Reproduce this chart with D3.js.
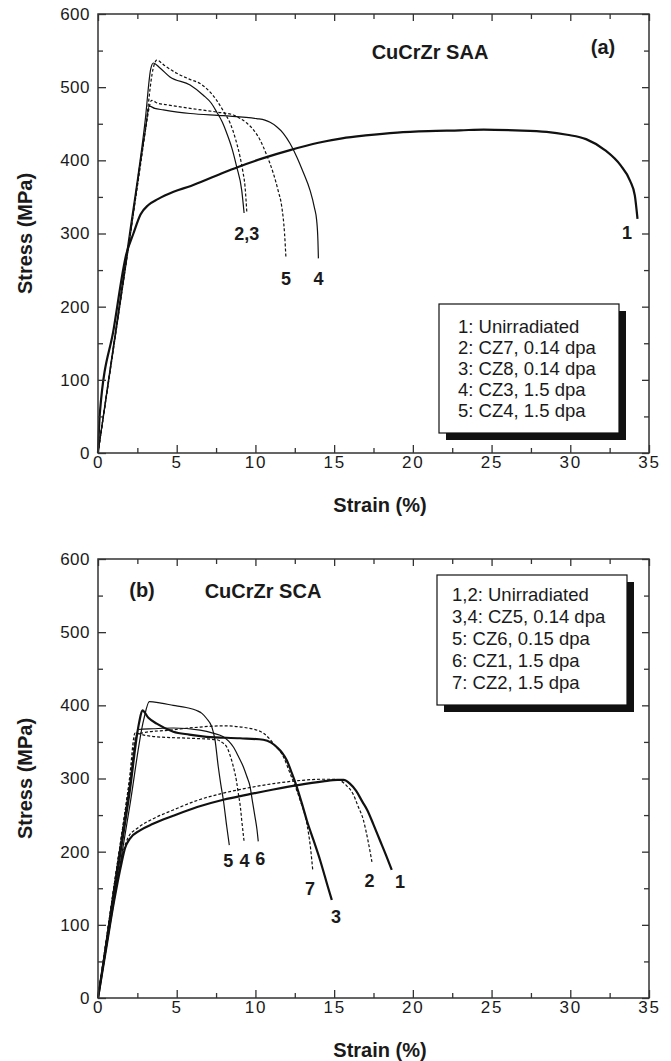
<html>

<head>
    <title>CuCrZr tensile curves</title>
    <script src="https://d3js.org/d3.v7.min.js"></script>
</head>
<style>
    body { margin: 0; background: #fff; }
    text { font-family: "Liberation Sans", Arial, sans-serif; fill: #1a1a1a; }
    .curve { fill: none; stroke: #111; stroke-width: 1.2px; }
    .dash { stroke-dasharray: 3, 2; }
    .thick { stroke-width: 2.2px; }
    .tick line { stroke: #333; stroke-width: 1.3px; }
    .ylab text { font-size: 17px; letter-spacing: 0.5px; }
    .xlab text { font-size: 17px; letter-spacing: 1.8px; }
    .clabel { font-size: 18px; font-weight: bold; }
    .title { font-size: 20px; font-weight: bold; }
    .legend text { font-size: 18.5px; }
</style>
<body>
<script>
    // ---- data: strain (%) , stress (MPa) ----

    // panel (a) CuCrZr SAA
    let saa1 = [[0,0],[0.12,55],[1.0,170],[1.8,272],[2.25,300],[2.7,326],[3.2,339],[3.8,347],[4.8,357],[5.9,365],[7.5,379],[8.9,391],[10.5,403],[12.2,414],[14,424],[15.5,430],[17,434],[19,438],[21,440],[23,441],[24.5,442],[26.5,441],[28.5,439],[29.8,435],[31.0,429],[32.2,414],[33.2,393],[33.8,372],[34.1,352],[34.27,320]];
    let saa2 = [[0,0],[1,150],[2,300],[3,455],[3.35,525],[3.52,533],[3.9,527],[4.57,514],[5.85,503],[6.69,489],[7.2,478],[7.54,466],[7.9,452],[8.18,437],[8.5,417],[8.81,391],[9.13,359],[9.28,328]];
    let saa3 = [[0,0],[1,148],[2,292],[3,440],[3.5,525],[3.73,537],[4.2,530],[5.0,519],[5.8,511],[6.48,505],[7.0,496],[7.54,482],[8.0,466],[8.39,451],[8.75,428],[9.02,405],[9.2,385],[9.34,364],[9.45,330]];
    let saa4 = [[0,0],[1,145],[2,290],[3,440],[3.26,474],[3.6,471],[4.15,469],[5.85,464],[7.96,461],[10.08,457],[10.6,455],[10.93,452],[11.35,446],[11.77,437],[12.2,423],[12.62,405],[13.05,383],[13.47,359],[13.75,335],[13.89,318],[13.97,290],[14.0,266]];
    let saa5 = [[0,0],[1,145],[2,292],[3,440],[3.41,482],[3.8,478],[4.36,476],[5.85,471],[7.54,466],[8.6,462],[9.05,457],[9.45,451],[9.9,441],[10.29,428],[10.7,408],[11.14,382],[11.45,358],[11.67,337],[11.85,300],[11.94,266]];
    let saaLabels = [["2,3", 9.45, 300], ["5", 11.94, 239], ["4", 14.0, 239], ["1", 33.6, 301]];
    let saaLegend = ["1: Unirradiated", "2: CZ7, 0.14 dpa", "3: CZ8, 0.14 dpa", "4: CZ3, 1.5 dpa", "5: CZ4, 1.5 dpa"];

    // panel (b) CuCrZr SCA
    let sca1 = [[0,0],[0.5,65],[1.0,130],[1.5,185],[1.72,205],[2.0,217],[2.67,229],[3.5,238],[4.78,249],[6.3,261],[7.96,271],[9.5,278],[11.14,285],[12.7,291],[14.3,296],[15.2,298],[15.6,298],[16.0,293],[16.4,283],[16.8,268],[17.1,257],[17.5,237],[17.9,216],[18.3,195],[18.66,175]];
    let sca2 = [[0,0],[0.5,68],[1.0,135],[1.6,200],[1.93,220],[2.5,232],[3.5,245],[4.78,257],[6.3,270],[7.96,280],[9.5,287],[11.14,293],[12.7,297],[14.3,299],[15.0,299],[15.4,297],[15.8,290],[16.2,279],[16.5,263],[16.86,243],[17.15,215],[17.4,186]];
    let sca3 = [[0,0],[1,140],[2,280],[2.6,375],[2.82,393],[3.2,383],[3.73,375],[4.78,364],[5.8,360],[6.9,357],[9.02,355],[10.5,353],[11.0,349],[11.35,343],[11.7,335],[11.99,325],[12.3,308],[12.62,289],[12.95,266],[13.26,243],[13.7,215],[14.1,189],[14.4,167],[14.6,152],[14.85,134]];
    let sca4 = [[0,0],[1,150],[2,300],[2.35,362],[3.0,359],[3.73,357],[5.85,355],[7.54,353],[7.9,349],[8.18,343],[8.4,331],[8.6,316],[8.8,296],[8.91,280],[9.05,260],[9.13,243],[9.28,214]];
    let sca5 = [[0,0],[1,130],[2,260],[2.9,380],[3.26,405],[4.0,403],[4.78,400],[5.6,397],[6.27,393],[6.6,389],[6.9,382],[7.22,371],[7.43,353],[7.64,316],[7.8,292],[7.96,271],[8.18,234],[8.34,209]];
    let sca6 = [[0,0],[1,150],[2,290],[2.56,367],[3.5,368],[4.78,369],[6.48,366],[7.3,362],[7.96,357],[8.3,351],[8.6,343],[8.9,331],[9.23,316],[9.45,303],[9.66,289],[9.8,270],[9.97,248],[10.1,230],[10.18,214]];
    let sca7 = [[0,0],[1,150],[2,295],[2.45,360],[3.0,363],[4.5,366],[6.3,370],[7.96,372],[9.5,369],[10.5,362],[11.14,348],[11.77,330],[12.2,307],[12.83,271],[13.26,239],[13.5,205],[13.64,175]];
    let scaLabels = [["5", 8.28, 188], ["4", 9.3, 188], ["6", 10.3, 191], ["7", 13.47, 150], ["3", 15.12, 111], ["2", 17.24, 161], ["1", 19.19, 159]];
    let scaLegend = ["1,2: Unirradiated", "3,4: CZ5, 0.14 dpa", "5: CZ6, 0.15 dpa", "6: CZ1, 1.5 dpa", "7: CZ2, 1.5 dpa"];

    // axis ticks
    let xMajor = [0, 5, 10, 15, 20, 25, 30, 35];
    let xMinor = [2.5, 7.5, 12.5, 17.5, 22.5, 27.5, 32.5];
    let yMajor = [0, 100, 200, 300, 400, 500, 600];
    let yMinor = [50, 150, 250, 350, 450, 550];

    let svg = d3.select("body").append("svg")
        .attr("width", 671)
        .attr("height", 1061);

    let left = 98, right = 649;

    function panel(top, bottom, curves, labels, legend, box, titles) {
        let x = d3.scaleLinear().domain([0, 35]).range([left, right]);
        let y = d3.scaleLinear().domain([0, 600]).range([bottom, top]);
        let g = svg.append("g");

        let line = d3.line()
            .x(function (d) { return x(d[0]); })
            .y(function (d) { return y(d[1]); })
            .curve(d3.curveMonotoneX);

        curves.forEach(function (c) {
            g.append("path")
                .datum(c.data)
                .attr("class", "curve " + c.cls)
                .attr("d", line);
        });

        // frame and inward ticks
        g.append("rect")
            .attr("x", left).attr("y", top)
            .attr("width", right - left).attr("height", bottom - top)
            .attr("fill", "none").attr("stroke", "#333").attr("stroke-width", 1.5);

        function ax(axis, tr, cls) {
            let a = g.append("g").attr("transform", tr).call(axis);
            a.select(".domain").remove();
            if (cls) a.attr("class", cls);
            return a;
        }
        ax(d3.axisBottom(x).tickValues(xMajor).tickSize(-8).tickPadding(3), "translate(0," + bottom + ")", "xlab");
        ax(d3.axisBottom(x).tickValues(xMinor).tickSize(-5).tickFormat(""), "translate(0," + bottom + ")");
        ax(d3.axisTop(x).tickValues(xMajor).tickSize(-7).tickFormat(""), "translate(0," + top + ")");
        ax(d3.axisTop(x).tickValues(xMinor).tickSize(-5).tickFormat(""), "translate(0," + top + ")");
        ax(d3.axisLeft(y).tickValues(yMajor).tickSize(-8).tickPadding(8), "translate(" + left + ",0)", "ylab");
        ax(d3.axisLeft(y).tickValues(yMinor).tickSize(-5).tickFormat(""), "translate(" + left + ",0)");
        ax(d3.axisRight(y).tickValues(yMajor).tickSize(-7).tickFormat(""), "translate(" + right + ",0)");
        ax(d3.axisRight(y).tickValues(yMinor).tickSize(-5).tickFormat(""), "translate(" + right + ",0)");
        g.selectAll(".tick text").attr("fill", "#1a1a1a").attr("font-family", null).attr("font-size", null);

        // curve numbers
        g.selectAll(".clabel")
            .data(labels)
            .enter().append("text")
            .attr("class", "clabel")
            .attr("text-anchor", "middle")
            .attr("x", function (d) { return x(d[1]); })
            .attr("y", function (d) { return y(d[2]) + 6.5; })
            .text(function (d) { return d[0]; });

        // legend box with drop shadow
        let lg = g.append("g").attr("class", "legend");
        lg.append("rect")
            .attr("x", box.x + 7).attr("y", box.y + 7)
            .attr("width", box.w).attr("height", box.h)
            .attr("fill", "#111");
        lg.append("rect")
            .attr("x", box.x).attr("y", box.y)
            .attr("width", box.w).attr("height", box.h)
            .attr("fill", "#fff").attr("stroke", "#111").attr("stroke-width", 1.2);
        lg.selectAll("text")
            .data(legend)
            .enter().append("text")
            .attr("x", box.tx)
            .attr("y", function (d, i) { return box.ty + i * box.dy; })
            .text(function (d) { return d; });

        titles.forEach(function (t) {
            g.append("text")
                .attr("class", "title")
                .attr("text-anchor", "middle")
                .attr("x", t[1]).attr("y", t[2])
                .text(t[0]);
        });

        // axis titles
        g.append("text")
            .attr("class", "title")
            .attr("text-anchor", "middle")
            .attr("x", 380).attr("y", bottom + 59)
            .text("Strain (%)");
        g.append("text")
            .attr("class", "title")
            .attr("text-anchor", "middle")
            .attr("transform", "translate(32," + ((top + bottom) / 2) + ") rotate(-90)")
            .text("Stress (MPa)");
    }

    panel(14, 453,
        [{data: saa1, cls: "thick"}, {data: saa2, cls: ""}, {data: saa3, cls: "dash"},
         {data: saa4, cls: ""}, {data: saa5, cls: "dash"}],
        saaLabels, saaLegend,
        {x: 439, y: 304, w: 180, h: 129, tx: 458, ty: 333, dy: 21},
        [["CuCrZr SAA", 430, 59], ["(a)", 603, 54]]);

    panel(559, 998,
        [{data: sca1, cls: "thick"}, {data: sca2, cls: "dash"}, {data: sca3, cls: "thick"},
         {data: sca4, cls: "dash"}, {data: sca5, cls: ""}, {data: sca6, cls: ""},
         {data: sca7, cls: "dash"}],
        scaLabels, scaLegend,
        {x: 437, y: 575, w: 190, h: 130, tx: 452, ty: 601, dy: 22},
        [["(b)", 142, 597], ["CuCrZr SCA", 263, 598]]);
</script>
</body>

</html>
